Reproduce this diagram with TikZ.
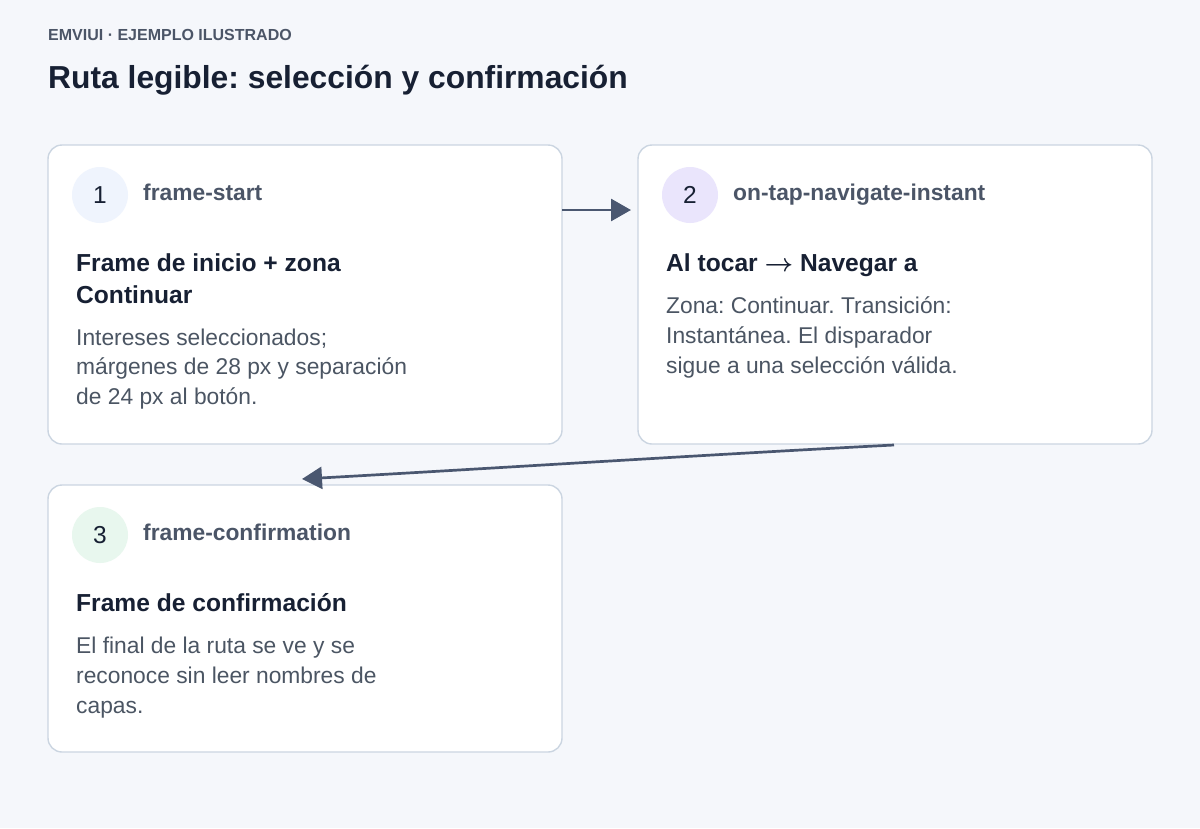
\documentclass[tikz,border=0pt]{standalone}
\usepackage{fontspec}
\setmainfont{Liberation Sans}
\usetikzlibrary{arrows.meta}
\definecolor{bg}{HTML}{F5F7FB}
\definecolor{cardborder}{HTML}{CBD5E1}
\definecolor{titlecol}{HTML}{172033}
\definecolor{labelcol}{HTML}{4B5567}
\definecolor{bodycol}{HTML}{4B5563}
\definecolor{arrowcol}{HTML}{4A5770}
\definecolor{circA}{HTML}{EFF4FD}
\definecolor{circB}{HTML}{EAE5FC}
\definecolor{circC}{HTML}{E8F7EE}
\frenchspacing
\begin{document}
\begin{tikzpicture}[x=1pt,y=-1pt,
  card/.style={draw=cardborder,line width=1.4pt,fill=white,rounded corners=14pt},
  numcirc/.style={circle,minimum size=56pt,inner sep=0pt,font=\fontsize{24.5}{28}\selectfont,text=titlecol},
  steplabel/.style={anchor=base west,inner sep=0pt,font=\bfseries\fontsize{22.8}{26}\selectfont,text=labelcol},
  cardtitle/.style={anchor=base west,inner sep=0pt,font=\bfseries\fontsize{24.6}{28}\selectfont,text=titlecol},
  bodytext/.style={anchor=base west,inner sep=0pt,font=\fontsize{22.8}{26}\selectfont,text=bodycol},
  conn/.style={draw=arrowcol,line width=2.7pt,-{Triangle[length=20pt,width=22pt]}}
]
\useasboundingbox (0,0) rectangle (1200,828);
\fill[bg] (0,0) rectangle (1200,828);

\node[anchor=base west,inner sep=0pt,font=\bfseries\fontsize{16}{19}\selectfont,text=labelcol] (kicker) at (48,40) {EMVIUI · EJEMPLO ILUSTRADO};
\node[anchor=base west,inner sep=0pt,font=\bfseries\fontsize{31.8}{36}\selectfont,text=titlecol] (heading) at (48,88) {Ruta legible: selección y confirmación};

% cards
\path[card] (48,145) rectangle (562,444);
\node[inner sep=0pt,minimum width=514pt,minimum height=299pt,anchor=north west] (card1) at (48,145) {};
\path[card] (638,145) rectangle (1152,444);
\node[inner sep=0pt,minimum width=514pt,minimum height=299pt,anchor=north west] (card2) at (638,145) {};
\path[card] (48,485) rectangle (562,752);
\node[inner sep=0pt,minimum width=514pt,minimum height=267pt,anchor=north west] (card3) at (48,485) {};

% card 1
\node[numcirc,fill=circA] (n1) at (100,195) {1};
\node[steplabel] (l1) at (143,200) {frame-start};
\node[cardtitle] (t1a) at (76,271) {Frame de inicio + zona};
\node[cardtitle] (t1b) at (76,303) {Continuar};
\node[bodytext] (b1a) at (76,345) {Intereses seleccionados;};
\node[bodytext] (b1b) at (76,374) {márgenes de 28 px y separación};
\node[bodytext] (b1c) at (76,404) {de 24 px al botón.};

% card 2
\node[numcirc,fill=circB] (n2) at (690,195) {2};
\node[steplabel] (l2) at (733,200) {on-tap-navigate-instant};
\node[cardtitle] (t2) at (666,271) {Al tocar {\fontsize{27}{28}\selectfont\boldmath$\rightarrow$} Navegar a};
\node[bodytext] (b2a) at (666,313) {Zona: Continuar. Transición:};
\node[bodytext] (b2b) at (666,343) {Instantánea. El disparador};
\node[bodytext] (b2c) at (666,373) {sigue a una selección válida.};

% card 3
\node[numcirc,fill=circC] (n3) at (100,535) {3};
\node[steplabel] (l3) at (143,540) {frame-confirmation};
\node[cardtitle] (t3) at (76,611) {Frame de confirmación};
\node[bodytext] (b3a) at (76,653) {El final de la ruta se ve y se};
\node[bodytext] (b3b) at (76,683) {reconoce sin leer nombres de};
\node[bodytext] (b3c) at (76,713) {capas.};

% connectors
\coordinate (a1s) at (card1.east |- 0,210);
\coordinate (a1e) at (631,210);
\draw[conn] (a1s) -- (a1e);
\coordinate (a2s) at (894,445);
\coordinate (a2e) at (302,479);
\draw[conn] (a2s) .. controls (700,455) and (500,468) .. (a2e);
\end{tikzpicture}
\end{document}
